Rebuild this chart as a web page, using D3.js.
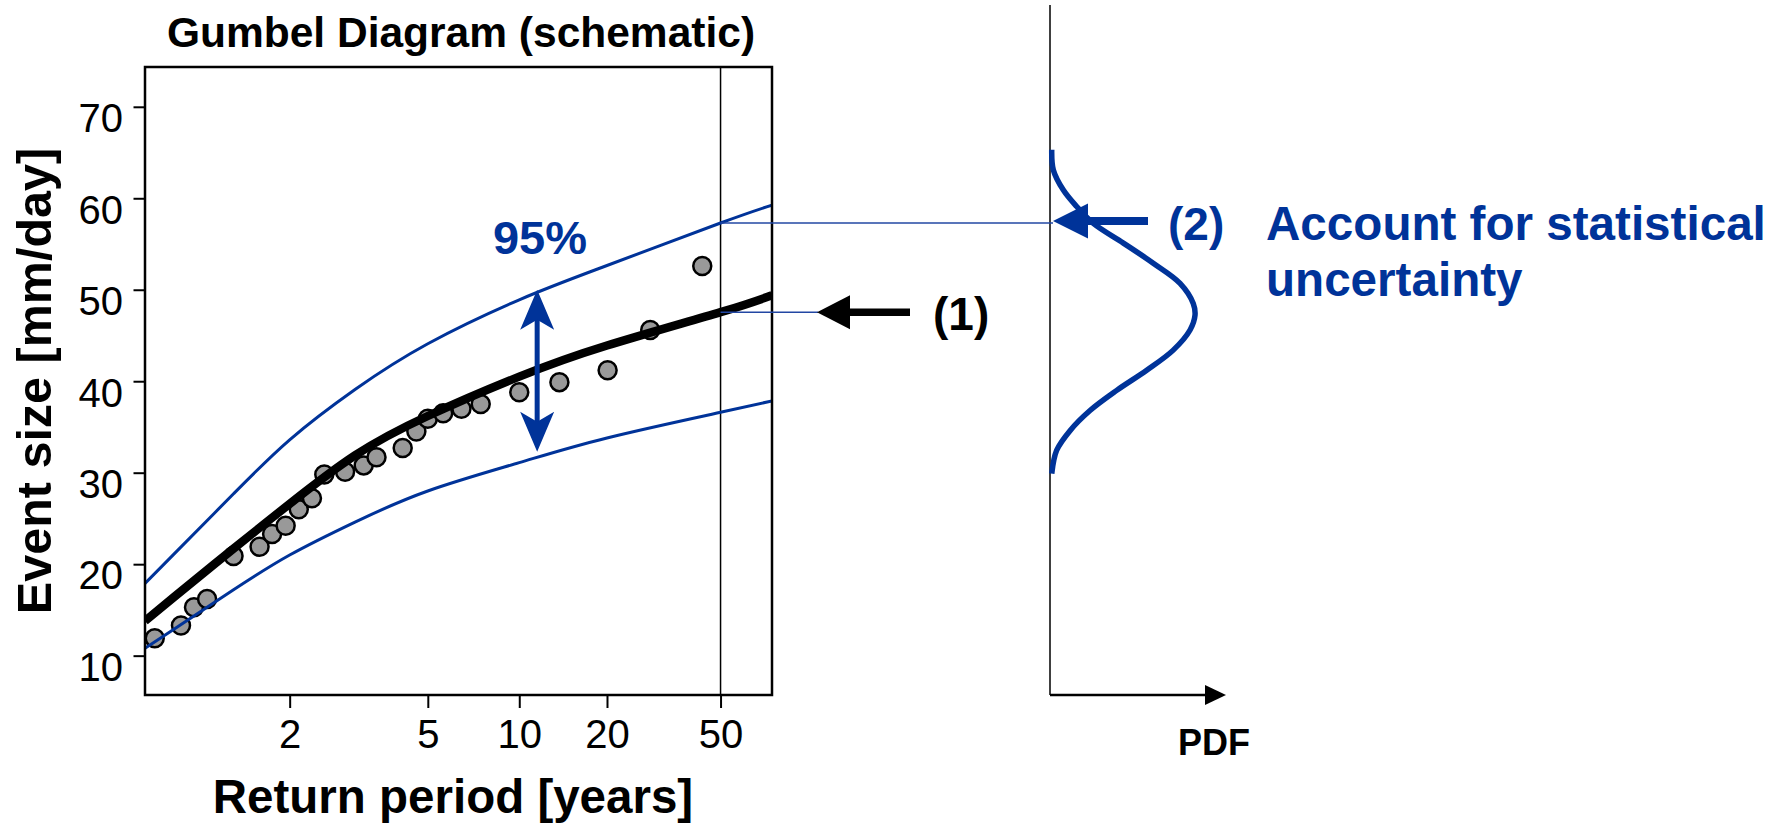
<!DOCTYPE html>
<html>
<head>
<meta charset="utf-8">
<script src="https://cdn.jsdelivr.net/npm/d3@7"></script>
<style>
  html, body { margin: 0; padding: 0; background: #fff; }
  svg { display: block; font-family: "Liberation Sans", Arial, Helvetica, sans-serif; }
</style>
</head>
<body>
<div id="chart"></div>
<script>
const width = 1771, height = 829;
const blue = '#003399';

// observed maxima, at their plotting return periods
const returnPeriods = [1.14, 1.226, 1.28, 1.343, 1.50, 1.70, 1.815, 1.955, 2.108, 2.28, 2.46, 2.81, 3.18, 3.47, 4.17, 4.6, 5.0, 5.6, 6.42, 7.43, 10.0, 13.7, 20.1, 28.3, 43.1];
const eventSizes = [11.9, 13.3, 15.3, 16.2, 20.9, 21.9, 23.3, 24.2, 26.0, 27.2, 29.8, 30.1, 30.8, 31.7, 32.7, 34.5, 35.9, 36.5, 37.0, 37.5, 38.8, 39.9, 41.2, 45.6, 52.6];

// fitted curve + 95% band, read at these return periods
const curvePeriods = [1.115, 1.2, 1.5, 2, 3, 5, 10, 20, 50, 76];
const fitCentral = [13.8, 16.4, 21.7, 26.6, 31.9, 36.2, 40.5, 43.9, 47.55, 49.4];
const ciUpper = [17.9, 21.1, 27.7, 33.6, 39.1, 44.1, 48.9, 52.65, 57.3, 59.25];
const ciLower = [10.8, 12.9, 17.2, 21.0, 24.6, 28.0, 31.1, 33.8, 36.6, 37.85];

const xTicks = [2, 5, 10, 20, 50];
const yTicks = [10, 20, 30, 40, 50, 60, 70];

// schematic PDF of the 50-year event (density relative to peak)
const pdfEvent = [65.3, 63.1, 60.9, 59.1, 57.25, 55.1, 52.9, 50.7, 48.5, 47.2, 45.6, 43.4, 41.2, 39.0, 36.8, 34.6, 32.45, 29.9];
const pdfDensity = [0.012, 0.023, 0.092, 0.184, 0.299, 0.506, 0.712, 0.897, 0.988, 1.0, 0.966, 0.85, 0.667, 0.46, 0.276, 0.138, 0.046, 0.012];

const designPeriod = 50;
const bandArrow = { period: 11.5, low: 32.3, high: 50.0 };

const svg = d3.select('#chart').append('svg')
  .attr('width', width)
  .attr('height', height);
svg.append('rect').attr('width', width).attr('height', height).attr('fill', '#fff');

const plot = { left: 145, right: 772, top: 67, bottom: 695 };

// Gumbel reduced variate for the x axis
const gumbel = T => -Math.log(-Math.log(1 - 1 / T));
const xu = d3.scaleLinear()
  .domain([gumbel(1.115), gumbel(76)])
  .range([plot.left, plot.right]);
const x = T => xu(gumbel(T));

const y = d3.scaleLinear()
  .domain([5.7, 74.35])
  .range([plot.bottom, plot.top]);

const pdfX = d3.scaleLinear().domain([0, 1]).range([1050, 1195]);

svg.append('defs').append('clipPath').attr('id', 'clip')
  .append('rect')
  .attr('x', plot.left).attr('y', plot.top)
  .attr('width', plot.right - plot.left).attr('height', plot.bottom - plot.top);

// axes
const yAxis = svg.append('g')
  .attr('transform', `translate(${plot.left},0)`)
  .call(d3.axisLeft(y).tickValues(yTicks).tickSize(11.5).tickPadding(10.5));
yAxis.attr('font-size', null).attr('font-family', null);
yAxis.select('.domain').remove();
yAxis.selectAll('line').attr('stroke', '#000').attr('stroke-width', 2);
yAxis.selectAll('text')
  .attr('font-size', 40)
  .attr('fill', '#000')
  .attr('dy', '0.62em');

const xAxis = svg.append('g')
  .attr('transform', `translate(0,${plot.bottom})`)
  .call(d3.axisBottom(xu)
    .tickValues(xTicks.map(gumbel))
    .tickFormat((d, i) => xTicks[i])
    .tickSize(13)
    .tickPadding(12));
xAxis.attr('font-size', null).attr('font-family', null);
xAxis.select('.domain').remove();
xAxis.selectAll('line').attr('stroke', '#000').attr('stroke-width', 2);
xAxis.selectAll('text')
  .attr('font-size', 40)
  .attr('fill', '#000');

// 50-year line
svg.append('line')
  .attr('x1', x(designPeriod)).attr('x2', x(designPeriod))
  .attr('y1', plot.top).attr('y2', plot.bottom)
  .attr('stroke', '#000').attr('stroke-width', 1.5);

const inner = svg.append('g').attr('clip-path', 'url(#clip)');

const points = returnPeriods.map((T, i) => [T, eventSizes[i]]);
inner.selectAll('.obs')
  .data(points)
  .enter()
  .append('circle')
  .attr('class', 'obs')
  .attr('cx', d => x(d[0]))
  .attr('cy', d => y(d[1]))
  .attr('r', 9)
  .attr('fill', '#999999')
  .attr('stroke', '#000')
  .attr('stroke-width', 2.5);

const curveLine = d3.line()
  .x(d => x(d[0]))
  .y(d => y(d[1]))
  .curve(d3.curveNatural);

const zip = vals => curvePeriods.map((T, i) => [T, vals[i]]);

inner.append('path')
  .datum(zip(ciUpper))
  .attr('d', curveLine)
  .attr('fill', 'none').attr('stroke', blue).attr('stroke-width', 3);
inner.append('path')
  .datum(zip(ciLower))
  .attr('d', curveLine)
  .attr('fill', 'none').attr('stroke', blue).attr('stroke-width', 3);
inner.append('path')
  .datum(zip(fitCentral))
  .attr('d', curveLine)
  .attr('fill', 'none').attr('stroke', '#000').attr('stroke-width', 8.5);

// frame
svg.append('rect')
  .attr('x', plot.left).attr('y', plot.top)
  .attr('width', plot.right - plot.left).attr('height', plot.bottom - plot.top)
  .attr('fill', 'none').attr('stroke', '#000').attr('stroke-width', 2.5);

// 95% double arrow (stealth heads)
const ax = x(bandArrow.period);
const aTop = y(bandArrow.high), aBot = y(bandArrow.low);
svg.append('line')
  .attr('x1', ax).attr('x2', ax)
  .attr('y1', aTop + 28).attr('y2', aBot - 28)
  .attr('stroke', blue).attr('stroke-width', 5);
svg.append('path')
  .attr('d', `M${ax},${aTop}L${ax + 17},${aTop + 40}L${ax},${aTop + 30}L${ax - 17},${aTop + 40}Z`)
  .attr('fill', blue);
svg.append('path')
  .attr('d', `M${ax},${aBot}L${ax + 17},${aBot - 40}L${ax},${aBot - 30}L${ax - 17},${aBot - 40}Z`)
  .attr('fill', blue);

// PDF panel axes
const pdfAxisX = pdfX(0);
svg.append('line')
  .attr('x1', pdfAxisX).attr('x2', pdfAxisX)
  .attr('y1', 5).attr('y2', plot.bottom)
  .attr('stroke', '#000').attr('stroke-width', 1.5);
svg.append('line')
  .attr('x1', pdfAxisX).attr('x2', 1207)
  .attr('y1', plot.bottom).attr('y2', plot.bottom)
  .attr('stroke', '#000').attr('stroke-width', 2.5);
svg.append('path')
  .attr('d', `M1226,${plot.bottom}L1205,${plot.bottom - 10}L1205,${plot.bottom + 10}Z`)
  .attr('fill', '#000');

// reference lines from the 50-year values
const iDesign = curvePeriods.indexOf(designPeriod);
const yFit50 = y(fitCentral[iDesign]);
const yUp50 = y(ciUpper[iDesign]);
svg.append('line')
  .attr('x1', x(designPeriod)).attr('x2', 1053)
  .attr('y1', yUp50).attr('y2', yUp50)
  .attr('stroke', '#2247a3').attr('stroke-width', 1.5);
svg.append('line')
  .attr('x1', x(designPeriod)).attr('x2', 818)
  .attr('y1', yFit50).attr('y2', yFit50)
  .attr('stroke', '#2247a3').attr('stroke-width', 1.5);

// PDF curve
const pdfLine = d3.line()
  .x(d => pdfX(d[1]))
  .y(d => y(d[0]))
  .curve(d3.curveCatmullRom);
svg.append('path')
  .datum(pdfEvent.map((v, i) => [v, pdfDensity[i]]))
  .attr('d', pdfLine)
  .attr('fill', 'none').attr('stroke', blue).attr('stroke-width', 5.5);

// annotation arrows
function leftArrow(tipX, yy, headLen, headHalf, endX, w, color) {
  svg.append('line')
    .attr('x1', tipX + headLen - 2).attr('x2', endX)
    .attr('y1', yy).attr('y2', yy)
    .attr('stroke', color).attr('stroke-width', w);
  svg.append('path')
    .attr('d', `M${tipX},${yy}L${tipX + headLen},${yy - headHalf}L${tipX + headLen},${yy + headHalf}Z`)
    .attr('fill', color);
}
leftArrow(817, yFit50, 33, 17, 910, 7.5, '#000');
leftArrow(1053, yUp50 - 2, 35, 17.5, 1148, 8, blue);

// texts
const txt = (s, xx, yy, size, opts = {}) => svg.append('text')
  .attr('x', xx).attr('y', yy)
  .attr('font-size', size)
  .attr('font-weight', opts.bold ? 'bold' : 'normal')
  .attr('fill', opts.color || '#000')
  .attr('text-anchor', opts.anchor || 'start')
  .text(s);

txt('Gumbel Diagram (schematic)', 461, 47, 42.5, { bold: true, anchor: 'middle' });
txt('Return period [years]', 453, 813, 47.5, { bold: true, anchor: 'middle' });
txt('Event size [mm/day]', 0, 0, 48.5, { bold: true, anchor: 'middle' })
  .attr('transform', 'translate(51,381) rotate(-90)');
txt('95%', 540, 254, 47, { bold: true, anchor: 'middle', color: blue });
txt('(1)', 933, 330, 46, { bold: true });
txt('(2)', 1168, 240, 46, { bold: true, color: blue });
txt('Account for statistical', 1266, 240, 47.6, { bold: true, color: blue });
txt('uncertainty', 1266, 296, 47.6, { bold: true, color: blue });
txt('PDF', 1214, 755, 36, { bold: true, anchor: 'middle' });
</script>
</body>
</html>
